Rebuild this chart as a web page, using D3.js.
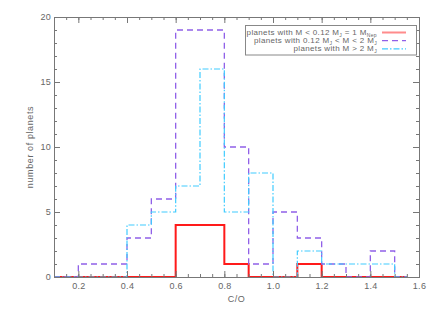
<!DOCTYPE html>
<html>
<head>
<meta charset="utf-8">
<script src="https://cdn.jsdelivr.net/npm/d3@7"></script>
<style>
  body { margin: 0; background: #fff; }
  text { font-family: "Liberation Sans", Arial, sans-serif; fill: #666; }
</style>
</head>
<body>
<div id="chart"></div>
<script>
var width = 436,
    height = 312;

var margin = {top: 17, right: 17, bottom: 35, left: 54};

// left edges of the C/O bins (width 0.1)
var binEdges = [0.1, 0.2, 0.3, 0.4, 0.5, 0.6, 0.7, 0.8, 0.9, 1.0, 1.1, 1.2, 1.3, 1.4, 1.5];
var binWidth = 0.1;

// counts per bin, one array per mass class
var lowMass  = [0, 0, 0, 0, 0, 4, 4, 1, 0, 0, 1, 0, 0, 0, 0];
var midMass  = [0, 1, 1, 3, 6, 19, 19, 10, 1, 5, 3, 1, 0, 2, 0];
var highMass = [0, 0, 0, 4, 5, 7, 16, 5, 8, 0, 2, 1, 1, 1, 0];

var xTicks = [0.2, 0.4, 0.6, 0.8, 1.0, 1.2, 1.4, 1.6];
var yTicks = [0, 5, 10, 15, 20];

var series = [
    {name: "low",  values: lowMass,  color: "#ff1a1a", width: 2,   dash: null},
    {name: "mid",  values: midMass,  color: "#9060e8", width: 1.3, dash: "6,4"},
    {name: "high", values: highMass, color: "#40ccff", width: 1.2, dash: "6,2,1.5,2"}
];

var svg = d3.select("#chart").append("svg")
    .attr("width", width)
    .attr("height", height);

var x = d3.scaleLinear()
    .domain([0.1, 1.6])
    .range([margin.left, width - margin.right]);

var y = d3.scaleLinear()
    .domain([0, 20])
    .range([height - margin.bottom, margin.top]);

// step lines, last bin is half width (as IDL draws it)
var line = d3.line()
    .x(function(d) { return x(d[0]); })
    .y(function(d) { return y(d[1]); })
    .curve(d3.curveStepAfter);

series.forEach(function(s) {
    var pts = binEdges.map(function(e, i) { return [e, s.values[i]]; });
    pts.push([binEdges[binEdges.length - 1] + binWidth / 2, s.values[s.values.length - 1]]);
    svg.append("path")
        .attr("d", line(pts))
        .attr("fill", "none")
        .attr("stroke", s.color)
        .attr("stroke-width", s.width)
        .attr("stroke-dasharray", s.dash);
});

// axes, ticks inside, mirrored on top and right
var axisColor = "#777";
var minorX = d3.range(0.1, 1.6001, 0.05);
var minorY = d3.range(0, 20.001, 1);

function styleAxis(g) {
    g.select(".domain").attr("stroke", axisColor);
    g.selectAll(".tick line").attr("stroke", axisColor);
    g.selectAll(".tick text").attr("font-size", "9px").attr("fill", "#666")
        .attr("letter-spacing", "0.3px");
}

svg.append("g")
    .attr("transform", "translate(0," + y(0) + ")")
    .call(d3.axisBottom(x).tickValues(minorX).tickSize(-3).tickFormat(""))
    .call(styleAxis);
svg.append("g")
    .attr("transform", "translate(0," + y(0) + ")")
    .call(d3.axisBottom(x).tickValues(xTicks).tickSize(-6).tickPadding(6).tickFormat(d3.format(".1f")))
    .call(styleAxis);

svg.append("g")
    .attr("transform", "translate(0," + y(20) + ")")
    .call(d3.axisTop(x).tickValues(minorX).tickSize(-3).tickFormat(""))
    .call(styleAxis);
svg.append("g")
    .attr("transform", "translate(0," + y(20) + ")")
    .call(d3.axisTop(x).tickValues(xTicks).tickSize(-6).tickFormat(""))
    .call(styleAxis);

svg.append("g")
    .attr("transform", "translate(" + x(0.1) + ",0)")
    .call(d3.axisLeft(y).tickValues(minorY).tickSize(-3).tickFormat(""))
    .call(styleAxis);
svg.append("g")
    .attr("transform", "translate(" + x(0.1) + ",0)")
    .call(d3.axisLeft(y).tickValues(yTicks).tickSize(-6).tickPadding(3))
    .call(styleAxis);

svg.append("g")
    .attr("transform", "translate(" + x(1.6) + ",0)")
    .call(d3.axisRight(y).tickValues(minorY).tickSize(-3).tickFormat(""))
    .call(styleAxis);
svg.append("g")
    .attr("transform", "translate(" + x(1.6) + ",0)")
    .call(d3.axisRight(y).tickValues(yTicks).tickSize(-6).tickFormat(""))
    .call(styleAxis);

// axis titles
svg.append("text")
    .attr("x", (x(0.1) + x(1.6)) / 2)
    .attr("y", 302)
    .attr("text-anchor", "middle")
    .attr("font-size", "9px")
    .attr("letter-spacing", "0.5px")
    .text("C/O");

svg.append("text")
    .attr("transform", "translate(33," + (y(10)) + ") rotate(-90)")
    .attr("text-anchor", "middle")
    .attr("font-size", "9px")
    .attr("letter-spacing", "0.6px")
    .text("number of planets");

// legend
var legend = svg.append("g");
legend.append("rect")
    .attr("x", 245.5).attr("y", 25.5)
    .attr("width", 171).attr("height", 29.5)
    .attr("fill", "#fff")
    .attr("stroke", "#888");

var legendRows = [
    [["planets with M < 0.12 M", ""], ["J", "sub"], [" = 1 M", ""], ["Nep", "sub"]],
    [["planets with 0.12 M", ""], ["J", "sub"], [" < M < 2 M", ""], ["J", "sub"]],
    [["planets with M > 2 M", ""], ["J", "sub"]]
];

legendRows.forEach(function(row, i) {
    var ty = 35 + i * 8.2;
    var t = legend.append("text")
        .attr("x", 377)
        .attr("y", ty)
        .attr("text-anchor", "end")
        .attr("font-size", "8px")
        .attr("letter-spacing", "0.35px");
    row.forEach(function(part) {
        var ts = t.append("tspan").text(part[0]);
        if (part[1] === "sub") {
            ts.attr("font-size", "5px").attr("dy", "1.5");
        } else if (t.selectAll("tspan").size() > 1) {
            ts.attr("dy", "-1.5");
        }
    });
    var s = series[i];
    legend.append("line")
        .attr("x1", 382).attr("x2", 406)
        .attr("y1", ty - 2.5).attr("y2", ty - 2.5)
        .attr("stroke", s.color)
        .attr("stroke-opacity", i === 0 ? 0.5 : 1)
        .attr("stroke-width", s.width)
        .attr("stroke-dasharray", s.dash);
});
</script>
</body>
</html>
